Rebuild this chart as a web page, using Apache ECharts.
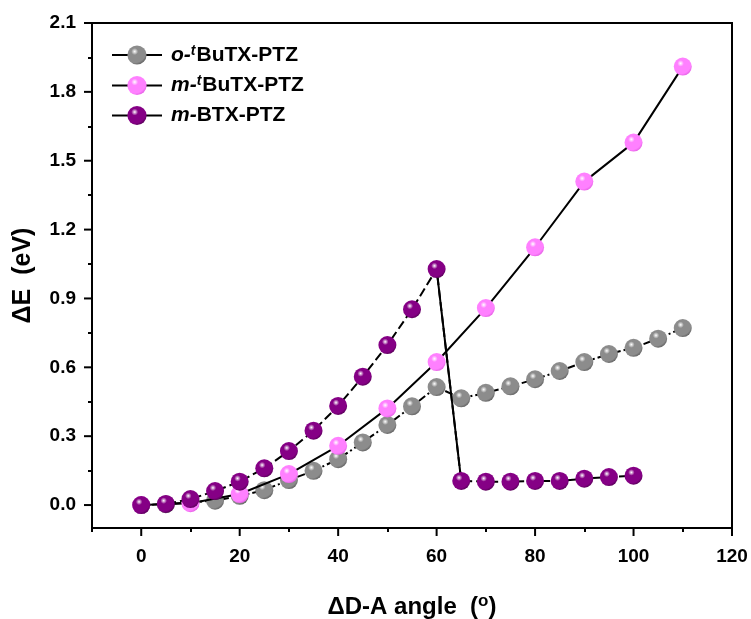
<!DOCTYPE html>
<html>
<head>
<meta charset="utf-8">
<script src="https://cdn.jsdelivr.net/npm/echarts@6/dist/echarts.min.js"></script>
<style>
html, body { margin: 0; padding: 0; background: #fff; }
#chart { width: 751px; height: 619px; }
</style>
</head>
<body>
<div id="chart"></div>
<script>
// o-tBuTX-PTZ (gray)
var anglesO = [0, 5, 10, 15, 20, 25, 30, 35, 40, 45, 50, 55, 60, 65, 70, 75, 80, 85, 90, 95, 100, 105, 110];
var valuesO = [0.0, 0.004, 0.012, 0.019, 0.040, 0.065, 0.109, 0.149, 0.200, 0.273, 0.349, 0.430, 0.514, 0.465, 0.489, 0.517, 0.548, 0.584, 0.623, 0.658, 0.685, 0.725, 0.771];
// m-tBuTX-PTZ (pink)
var anglesMT = [0, 10, 20, 30, 40, 50, 60, 70, 80, 90, 100, 110];
var valuesMT = [0.0, 0.008, 0.048, 0.135, 0.258, 0.421, 0.623, 0.858, 1.123, 1.409, 1.579, 1.910];
// m-BTX-PTZ (purple)
var anglesMB = [0, 5, 10, 15, 20, 25, 30, 35, 40, 45, 50, 55, 60, 65, 70, 75, 80, 85, 90, 95, 100];
var valuesMB = [0.0, 0.005, 0.026, 0.061, 0.102, 0.160, 0.235, 0.324, 0.432, 0.559, 0.697, 0.853, 1.028, 0.105, 0.102, 0.102, 0.105, 0.105, 0.115, 0.122, 0.128];

var seriesNames = ['o-tBuTX-PTZ', 'm-tBuTX-PTZ', 'm-BTX-PTZ'];
var legendLabels = ['{i|o-}{s|t}{b|BuTX-PTZ}', '{i|m-}{s|t}{b|BuTX-PTZ}', '{i|m-}{b|BTX-PTZ}'];

var xTicks = [0, 20, 40, 60, 80, 100, 120];
var xMinorTicks = [-10, 10, 30, 50, 70, 90, 110];
var yTicks = [0.0, 0.3, 0.6, 0.9, 1.2, 1.5, 1.8, 2.1];
var yMinorTicks = [0.15, 0.45, 0.75, 1.05, 1.35, 1.65, 1.95];

var FONT = '"Liberation Sans", Arial, sans-serif';
var X_MIN = -10, X_MAX = 120, Y_MIN = -0.1, Y_MAX = 2.1;

function pairs(xs, ys) {
	var out = [];
	for (var i = 0; i < xs.length; i++) {
		out.push([xs[i], ys[i]]);
	}
	return out;
}

function ball(base, dark) { // shaded sphere marker
	return new echarts.graphic.RadialGradient(0.38, 0.32, 0.72, [
		{ offset: 0, color: '#ffffff' },
		{ offset: 0.25, color: base },
		{ offset: 0.8, color: base },
		{ offset: 1, color: dark }
	]);
}

// long ticks at the labelled values: [x, y, 0 = bottom axis / 1 = left axis]
var majorTickData = [];
for (var i = 0; i < xTicks.length; i++) majorTickData.push([xTicks[i], Y_MIN, 0]);
for (var j = 0; j < yTicks.length; j++) majorTickData.push([X_MIN, yTicks[j], 1]);

function renderMajorTick(params, api) {
	var p = api.coord([api.value(0), api.value(1)]);
	var left = api.value(2) === 1;
	return {
		type: 'rect',
		shape: left ? { x: p[0] - 8, y: p[1] - 1, width: 8, height: 2 } : { x: p[0] - 1, y: p[1], width: 2, height: 8 },
		style: { fill: '#000' }
	};
}

// the solid jump of m-BTX-PTZ from 60 to 65 degrees
var jumpIdx = anglesMB.indexOf(60);
var jumpData = pairs(anglesMB.slice(jumpIdx, jumpIdx + 2), valuesMB.slice(jumpIdx, jumpIdx + 2));

var myChart = echarts.init(document.getElementById('chart'));
var option = {
	animation: false,
	backgroundColor: '#fff',
	textStyle: { fontFamily: FONT },
	grid: {
		left: 92,
		right: 19,
		top: 23,
		bottom: 91,
		outerBoundsMode: 'none',
		show: true,
		borderColor: '#000',
		borderWidth: 2
	},
	legend: {
		data: seriesNames,
		orient: 'vertical',
		left: 106,
		top: 39,
		itemWidth: 50,
		itemHeight: 24,
		itemGap: 9,
		lineStyle: { type: 'solid', width: 2, color: '#000' },
		formatter: function(name) {
			return legendLabels[seriesNames.indexOf(name)];
		},
		textStyle: {
			color: '#000',
			padding: [0, 0, 0, 4],
			rich: {
				i: { fontSize: 21, fontWeight: 'bold', fontStyle: 'italic', fontFamily: FONT, color: '#000' },
				s: { fontSize: 14, fontWeight: 'bold', fontStyle: 'italic', fontFamily: FONT, color: '#000', verticalAlign: 'top', padding: [0, 1, 8, 0] },
				b: { fontSize: 21, fontWeight: 'bold', fontFamily: FONT, color: '#000' }
			}
		}
	},
	xAxis: {
		type: 'value',
		min: X_MIN,
		max: X_MAX,
		position: 'bottom',
		name: 'ΔD-A angle  ({sup|o})',
		nameLocation: 'middle',
		nameGap: 65,
		nameTextStyle: {
			fontSize: 24,
			fontWeight: 'bold',
			color: '#000',
			rich: {
				sup: { fontSize: 17, fontWeight: 'bold', color: '#000', verticalAlign: 'top', padding: [0, 0, 12, 0] }
			}
		},
		axisLine: { show: true, onZero: false, lineStyle: { color: '#000', width: 2 } },
		axisTick: { show: true, inside: false, length: 4, customValues: xMinorTicks, lineStyle: { color: '#000', width: 2 } },
		axisLabel: {
			customValues: xTicks,
			margin: 19,
			fontSize: 19,
			fontWeight: 'bold',
			color: '#000'
		},
		splitLine: { show: false }
	},
	yAxis: {
		type: 'value',
		min: Y_MIN,
		max: Y_MAX,
		position: 'left',
		name: 'ΔE  (eV)',
		nameLocation: 'middle',
		nameGap: 56,
		nameTextStyle: { fontSize: 25, fontWeight: 'bold', color: '#000' },
		axisLine: { show: true, onZero: false, lineStyle: { color: '#000', width: 2 } },
		axisTick: { show: true, inside: false, length: 4, customValues: yMinorTicks, lineStyle: { color: '#000', width: 2 } },
		axisLabel: {
			customValues: yTicks,
			margin: 16,
			fontSize: 19,
			fontWeight: 'bold',
			color: '#000',
			formatter: function(v) { return v.toFixed(1); }
		},
		splitLine: { show: false }
	},
	series: [{
		name: seriesNames[0],
		type: 'line',
		z: 2,
		data: pairs(anglesO, valuesO),
		symbol: 'circle',
		symbolSize: 18,
		lineStyle: { color: '#000', width: 2, type: [8, 3, 2, 3] },
		itemStyle: { color: ball('#8c8c8c', '#5e5e5e') }
	}, {
		name: seriesNames[1],
		type: 'line',
		z: 3,
		data: pairs(anglesMT, valuesMT),
		symbol: 'circle',
		symbolSize: 18,
		lineStyle: { color: '#000', width: 2, type: 'solid' },
		itemStyle: { color: ball('#ff80ff', '#e25ee2') }
	}, {
		name: seriesNames[2],
		type: 'line',
		z: 4,
		data: pairs(anglesMB, valuesMB),
		symbol: 'circle',
		symbolSize: 18,
		lineStyle: { color: '#000', width: 2, type: [9, 4] },
		itemStyle: { color: ball('#850085', '#560056') }
	}, {
		name: 'jump',
		type: 'line',
		z: 1,
		data: jumpData,
		showSymbol: false,
		symbol: 'none',
		lineStyle: { color: '#000', width: 2, type: 'solid' },
		silent: true
	}, {
		name: 'majorTicks',
		type: 'custom',
		coordinateSystem: 'cartesian2d',
		dimensions: ['x', 'y', 'side'],
		encode: { x: 0, y: 1 },
		z: 10,
		clip: false,
		silent: true,
		data: majorTickData,
		renderItem: renderMajorTick
	}]
};
myChart.setOption(option);
</script>
</body>
</html>
